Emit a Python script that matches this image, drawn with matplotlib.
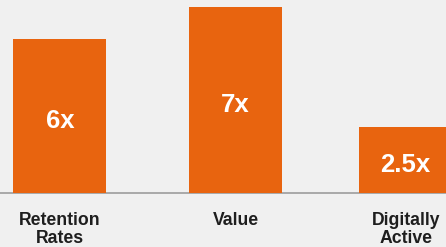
import matplotlib
matplotlib.use("Agg")
import matplotlib.pyplot as plt

# data
categories = ["Retention\nRates", "Value", "Digitally\nActive"]
heights = [5.8, 7.0, 2.5]
value_labels = ["6x", "7x", "2.5x"]

BG = "#f0f0f0"
ORANGE = "#e8640f"

fig = plt.figure(figsize=(4.46, 2.47), dpi=100, facecolor=BG)
ax = fig.add_axes([0, 0, 1, 1])
ax.set_facecolor(BG)

xpos = [0, 1, 1.967]
bars = ax.bar(xpos, heights, width=0.529, color=ORANGE, zorder=2)

ax.set_xlim(-0.341, 2.196)
ax.set_ylim(-2.014, 7.25)

# baseline
ax.axhline(0, color="#a3a3a3", lw=1.3, zorder=1)

for b, lab in zip(bars, value_labels):
    ax.annotate(lab, (b.get_x() + b.get_width() / 2, b.get_height() / 2),
                xytext=(0, -3.5), textcoords="offset points",
                ha="center", va="center", color="white", fontsize=18.5,
                fontweight="bold", family="Liberation Sans")

for x, cat in zip(xpos, categories):
    ax.annotate(cat, (x, 0), xytext=(0, -13.5), textcoords="offset points",
                ha="center", va="top", fontsize=12.7, fontweight="bold",
                family="Liberation Sans", color="#1e1e1e", linespacing=1.1,
                annotation_clip=False)

ax.axis("off")
fig.savefig("out.png", dpi=100, facecolor=BG)
